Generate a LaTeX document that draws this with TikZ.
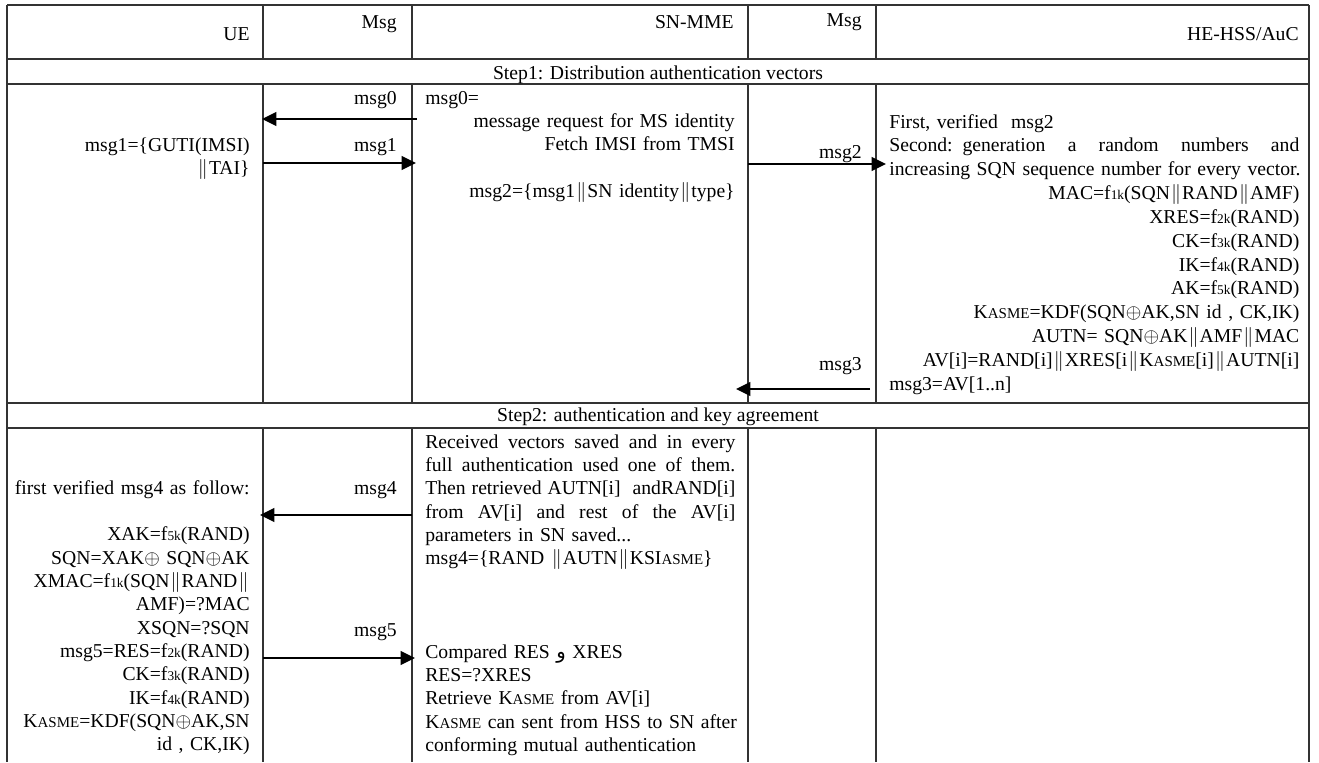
\documentclass[tikz,border=0pt]{standalone}
\usepackage{fontspec}
\setmainfont{Liberation Serif}
\newfontfamily\arabicfont[Script=Arabic]{DejaVu Sans}
\TeXXeTstate=1
\usetikzlibrary{arrows.meta}
\newcommand{\sml}[1]{{\fontsize{8}{9}\selectfont #1}}
\newcommand{\kasme}{K{\fontsize{9}{10}\selectfont ASME}}
\newcommand{\dbar}{\ensuremath{\mkern1mu\|\mkern1mu}}
\newcommand{\xr}{\ensuremath{\oplus}}
\newcommand{\jline}[2]{\makebox[#1][s]{\spaceskip=0.25em plus 1fil\relax #2}}

\begin{document}
\begin{tikzpicture}[x=0.6pt,y=-0.6pt,
    rule/.style={line width=0.7pt, draw=black!80},
    msgarrow/.style={line width=1.2pt, -{Triangle[length=8.6pt,width=8.2pt]}},
    txt/.style={inner sep=0pt, font=\fontsize{11.8}{14}\selectfont},
    lbl/.style={txt, anchor=base east},
    lblw/.style={txt, anchor=base west}]
    \path[use as bounding box, fill=white] (0,0) rectangle (1319,762);

    % table rules
    \foreach \y in {5,59,84,403,428}
        \draw[rule] (7,\y) -- (1309,\y);
    \draw[rule] (7,5) -- (7,762);
    \draw[rule] (1309,5) -- (1309,762);
    \foreach \x in {263,412,748,876} {
        \draw[rule] (\x,5) -- (\x,59);
        \draw[rule] (\x,84) -- (\x,403);
        \draw[rule] (\x,428) -- (\x,762);
    }

    % header
    \node[lbl] (hUE) at (250,40) {UE};
    \node[lbl] (hMsgA) at (397,28) {Msg};
    \node[lbl] (hSN) at (734,28) {SN-MME};
    \node[lbl] (hMsgB) at (862,26) {Msg};
    \node[lbl] (hHE) at (1299,40) {HE-HSS/AuC};

    % step 1
    \node[txt, anchor=base] (stepA) at (658,79) {Step1: Distribution authentication vectors};
    \node[lbl] (m0) at (397,104) {msg0};
    \node[lbl] (m1) at (397,151) {msg1};
    \node[lbl] (m2) at (862,158) {msg2};
    \node[lbl] (m3) at (862,370) {msg3};

    \node[txt, text width=160pt, align=right, anchor=base east] (ueA) at (250,151)
        {msg1=\{GUTI(IMSI)\\ \dbar TAI\}\hspace*{4pt}};
    \node[lblw] (snA) at (425,104) {msg0=};
    \node[txt, text width=186pt, align=right, anchor=base east] (snB) at (735,127)
        {message request for MS identity\\ Fetch IMSI from TMSI\\[14pt]
         msg2=\{msg1\dbar SN identity\dbar type\}};
    \node[txt, text width=246pt, align=left, anchor=base west,
          font=\fontsize{11.8}{14.3}\selectfont] (heA) at (889,128)
        {First, verified\ \ msg2\\
         \jline{246pt}{Second: generation a random numbers and}\\
         \mbox{increasing SQN sequence number for every vector.}\\
         \hspace*{\fill}MAC=f\sml{1k}(SQN\dbar RAND\dbar AMF)\\
         \hspace*{\fill}XRES=f\sml{2k}(RAND)\\
         \hspace*{\fill}CK=f\sml{3k}(RAND)\\
         \hspace*{\fill}IK=f\sml{4k}(RAND)\\
         \hspace*{\fill}AK=f\sml{5k}(RAND)\\
         \hspace*{\fill}\kasme=KDF(SQN\xr AK,SN id , CK,IK)\\
         \hspace*{\fill}AUTN= SQN\xr AK\dbar AMF\dbar MAC\\
         \hspace*{\fill}AV[i]=RAND[i]\dbar XRES[i\dbar\kasme[i]\dbar AUTN[i]\\
         msg3=AV[1..n]};

    \coordinate (a0s) at (417,119); \coordinate (a0e) at (262,119);
    \coordinate (a1s) at (263,163); \coordinate (a1e) at (416,163);
    \coordinate (a2s) at (748,164); \coordinate (a2e) at (886,164);
    \coordinate (a3s) at (870,389); \coordinate (a3e) at (736,389);
    \draw[msgarrow] (a0s) -- (a0e);
    \draw[msgarrow] (a1s) -- (a1e);
    \draw[msgarrow] (a2s) -- (a2e);
    \draw[msgarrow] (a3s) -- (a3e);

    % step 2
    \node[txt, anchor=base] (stepB) at (658,421) {Step2: authentication and key agreement};
    \node[lbl] (m4) at (397,494) {msg4};
    \node[lbl] (m5) at (397,636) {msg5};

    \node[txt, text width=160pt, align=right, anchor=base east] (ueB) at (250,494)
        {first verified msg4 as follow:\\[14pt]
         XAK=f\sml{5k}(RAND)\\
         SQN=XAK\xr{} SQN\xr AK\\
         XMAC=f\sml{1k}(SQN\dbar RAND\dbar\\
         AMF)=?MAC\\
         XSQN=?SQN\\
         msg5=RES=f\sml{2k}(RAND)\\
         CK=f\sml{3k}(RAND)\\
         IK=f\sml{4k}(RAND)\\
         \kasme=KDF(SQN\xr AK,SN\\
         id , CK,IK)};
    \node[txt, text width=210pt, align=left, anchor=base west] (snC) at (425,448)
        {\jline{186pt}{Received vectors saved and in every}\\
         \jline{186pt}{full authentication used one of them.}\\
         \jline{186pt}{Then retrieved AUTN[i]\ \ andRAND[i]}\\
         \jline{186pt}{from AV[i] and rest of the AV[i]}\\
         parameters in SN saved...\\
         msg4=\{RAND\ \dbar AUTN\dbar KSI{\fontsize{9}{10}\selectfont ASME}\}\\[42pt]
         Compared RES {\arabicfont\beginR و\endR} XRES\\
         RES=?XRES\\
         Retrieve \kasme{} from AV[i]\\
         \kasme{} can sent from HSS to SN after\\
         conforming mutual authentication};

    \coordinate (a4s) at (412,515); \coordinate (a4e) at (260,515);
    \coordinate (a5s) at (263,658); \coordinate (a5e) at (415,658);
    \draw[msgarrow] (a4s) -- (a4e);
    \draw[msgarrow] (a5s) -- (a5e);
\end{tikzpicture}
\end{document}
